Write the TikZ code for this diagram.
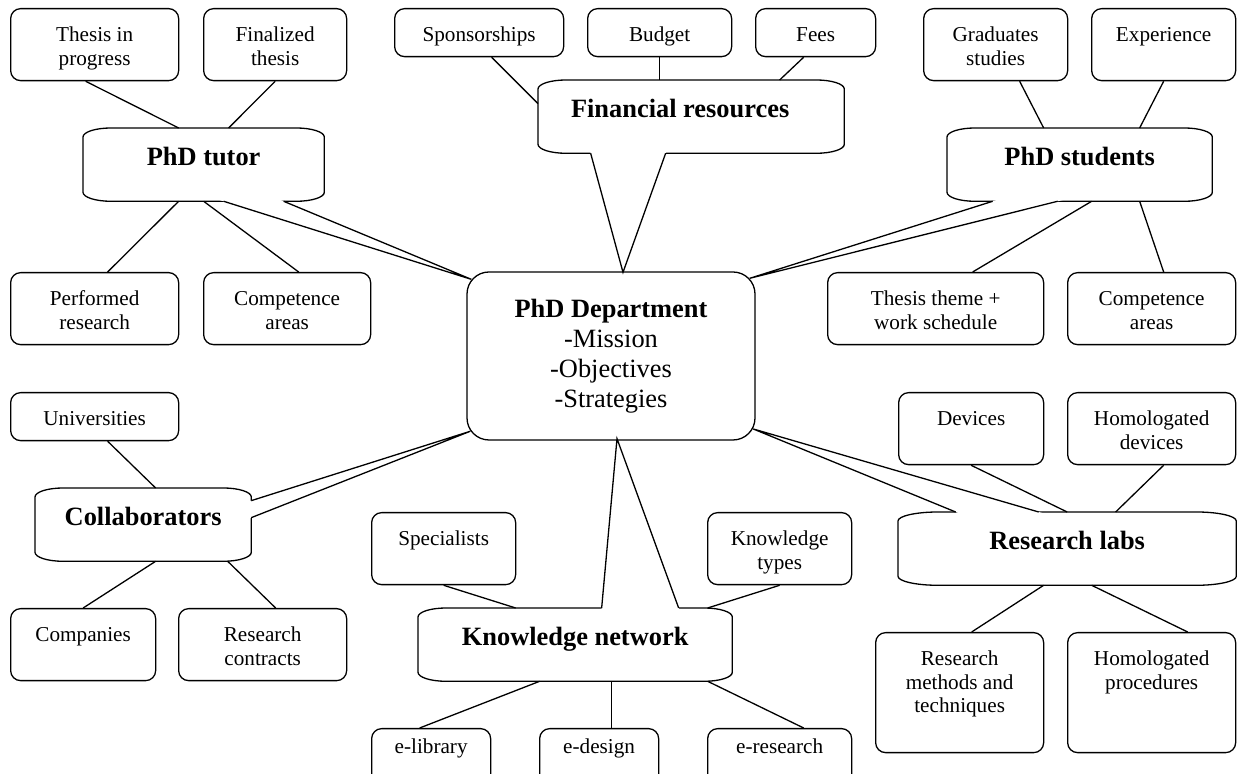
\documentclass[tikz,border=0pt]{standalone}
\usepackage{fontspec}
\setmainfont{Liberation Serif}
\usetikzlibrary{calc}

\def\topgap{16.5pt}
\tikzset{
	top gap/.code={\def\topgap{#1}},
	box/.style 2 args={draw, rounded corners=5pt, anchor=north west, inner sep=0pt,
		minimum width=#1pt, minimum height=#2pt, font=\fontsize{10.6}{11.8}\selectfont,
		execute at begin node={\begin{minipage}[t][#2pt][t]{#1pt}\centering\rule{0pt}{\topgap}},
		execute at end node={\end{minipage}}},
	callout/.style 2 args={box={#1}{#2}, draw=none, top gap=18.6pt,
		font=\bfseries\fontsize{13.2}{15}\selectfont},
	dept/.style={draw, rounded corners=11pt, minimum width=144pt, minimum height=84pt,
		align=center, inner sep=0pt, font=\fontsize{13.2}{15}\selectfont},
}

% outline of a callout, corners flattened
\newcommand{\flagline}[2]{
	\draw ([yshift=-4.5pt]#1.north west) arc[start angle=180, end angle=90, x radius=#2, y radius=4.5pt]
		-- ([xshift=-#2]#1.north east) arc[start angle=90, end angle=0, x radius=#2, y radius=4.5pt]
		-- ([yshift=4.5pt]#1.south east) arc[start angle=0, end angle=-90, x radius=#2, y radius=4.5pt]
		-- ([xshift=#2]#1.south west) arc[start angle=270, end angle=180, x radius=#2, y radius=4.5pt]
		-- cycle;}
% pointer of a callout: base, tip, base
\newcommand{\calloutwedge}[3]{
	\fill[white] ($(#1)!-3pt!(#2)$) -- (#2) -- ($(#3)!-3pt!(#2)$) -- cycle;
	\draw (#1) -- (#2) -- (#3);}

\begin{document}
\begin{tikzpicture}[x=0.5pt, y=0.5pt, line width=0.65pt]
	\useasboundingbox (0,0) rectangle (1237,774);

	\node[dept] (dept) at (611,418) {\textbf{PhD Department}\\-Mission\\-Objectives\\-Strategies};

	% PhD tutor
	\node[callout={120}{36}] (tutor) at (83,646) {PhD tutor};
	\node[box={84}{36}] (thprog) at (10,766) {Thesis in\\progress};
	\node[box={71.5}{36}] (thfin) at (203,766) {Finalized\\thesis};
	\node[box={84}{36}] (perf) at (10,502) {Performed\\research};
	\node[box={83.5}{36}] (compt) at (203,502) {Competence\\areas};

	% Financial resources
	\node[callout={152.5}{36}] (fin) at (538,694) {Financial resources\rule{11pt}{0pt}};
	\node[box={84.5}{24}] (sponsor) at (394,766) {Sponsorships};
	\node[box={72}{24}] (budget) at (587,766) {Budget};
	\node[box={60}{24}] (fees) at (755,766) {Fees};

	% PhD students
	\node[callout={132}{36}] (stud) at (947,646) {PhD students};
	\node[box={72}{36}] (grad) at (923,766) {Graduates\\studies};
	\node[box={72}{36}] (exper) at (1091,766) {Experience};
	\node[box={108}{36}] (theme) at (827,502) {Thesis theme +\\work schedule};
	\node[box={84}{36}] (comps) at (1067,502) {Competence\\areas};

	% Collaborators
	\node[callout={107.5}{36}] (collab) at (35,286) {Collaborators};
	\node[box={84}{24}] (univ) at (10,382) {Universities};
	\node[box={72.5}{36}] (compan) at (10,166) {Companies};
	\node[box={84}{36}] (contr) at (178,166) {Research\\contracts};

	% Knowledge network
	\node[callout={156.5}{36}] (know) at (418,166) {Knowledge network};
	\node[box={72}{36}] (spec) at (371,262) {Specialists};
	\node[box={72}{36}] (ktypes) at (707,262) {Knowledge\\types};
	\node[box={59.5}{36}, top gap=12.2pt] (elib) at (371,46) {e-library};
	\node[box={59.5}{36}, top gap=12.2pt] (edes) at (539,46) {e-design};
	\node[box={72}{36}, top gap=12.2pt] (eres) at (707,46) {e-research};

	% Research labs
	\node[callout={168.5}{36}] (labs) at (898,262) {Research labs};
	\node[box={72.5}{36}] (devices) at (898,382) {Devices};
	\node[box={84}{36}] (homdev) at (1067,382) {Homologated\\devices};
	\node[box={84}{60}] (methods) at (875,142) {Research\\methods and\\techniques};
	\node[box={84}{60}] (homproc) at (1067,142) {Homologated\\procedures};

	\flagline{tutor}{14pt}
	\flagline{fin}{14pt}
	\flagline{stud}{14pt}
	\flagline{collab}{14pt}
	\flagline{know}{14pt}
	\flagline{labs}{20pt}

	\coordinate (tutA) at ([xshift=10pt]tutor.south);
	\coordinate (tutB) at ([xshift=40pt]tutor.south);
	\coordinate (tutT) at ([xshift=2.5pt,yshift=-4pt]dept.north west);
	\coordinate (finA) at ([xshift=-50.25pt]fin.south);
	\coordinate (finB) at ([xshift=-12.75pt]fin.south);
	\coordinate (finT) at ([xshift=6pt,yshift=-0.5pt]dept.north);
	\coordinate (studA) at ([xshift=-43.5pt]stud.south);
	\coordinate (studB) at ([xshift=-11pt]stud.south);
	\coordinate (studT) at ([xshift=-3pt,yshift=-3.5pt]dept.north east);
	\coordinate (collabA) at ([yshift=12pt]collab.east);
	\coordinate (collabB) at ([yshift=3.5pt]collab.east);
	\coordinate (collabT) at ([xshift=2pt,yshift=4.7pt]dept.south west);
	\coordinate (knowA) at ([xshift=13.25pt]know.north);
	\coordinate (knowB) at ([xshift=51.75pt]know.north);
	\coordinate (knowT) at ([xshift=3pt,yshift=1pt]dept.south);
	\coordinate (labsA) at ([xshift=-55.75pt]labs.north);
	\coordinate (labsB) at ([xshift=-14.25pt]labs.north);
	\coordinate (labsT) at ([xshift=-1.25pt,yshift=5.85pt]dept.south east);

	\calloutwedge{tutA}{tutT}{tutB}
	\calloutwedge{finA}{finT}{finB}
	\calloutwedge{studA}{studT}{studB}
	\calloutwedge{collabA}{collabT}{collabB}
	\calloutwedge{knowA}{knowT}{knowB}
	\calloutwedge{labsA}{labsT}{labsB}

	\draw ([xshift=-4.5pt]thprog.south) -- ([xshift=-12.5pt]tutor.north);
	\draw (thfin.south) -- ([xshift=12.5pt]tutor.north);
	\draw ([xshift=-12.5pt]tutor.south) -- ([xshift=6.5pt]perf.north);
	\draw (tutor.south) -- ([xshift=5.75pt]compt.north);

	\draw ([xshift=6.25pt]sponsor.south) -- ([yshift=6.5pt]fin.west);
	\draw (budget.south) -- (budget.south |- fin.north);
	\draw ([xshift=-6pt]fees.south) -- ([xshift=44.25pt]fin.north);

	\draw ([xshift=12pt]grad.south) -- ([xshift=-18pt]stud.north);
	\draw (exper.south) -- ([xshift=30pt]stud.north);
	\draw ([xshift=6pt]stud.south) -- ([xshift=18.5pt]theme.north);
	\draw ([xshift=30pt]stud.south) -- ([xshift=6pt]comps.north);

	\draw ([xshift=6.5pt]univ.south) -- ([xshift=6.25pt]collab.north);
	\draw ([xshift=6.25pt]collab.south) -- (compan.north);
	\draw ([xshift=42.25pt]collab.south) -- ([xshift=6.5pt]contr.north);

	\draw (spec.south) -- ([xshift=-29.75pt]know.north);
	\draw (ktypes.south) -- ([xshift=66.25pt]know.north);
	\draw ([xshift=-17.75pt]know.south) -- ([xshift=-5.75pt]elib.north);
	\draw ([xshift=18.25pt]know.south) -- ([xshift=6.25pt]edes.north);
	\draw ([xshift=66.25pt]know.south) -- ([xshift=12pt]eres.north);

	\draw (devices.south) -- (labs.north);
	\draw ([xshift=6pt]homdev.south) -- ([xshift=24.25pt]labs.north);
	\draw ([xshift=-11.75pt]labs.south) -- ([xshift=6pt]methods.north);
	\draw ([xshift=12.25pt]labs.south) -- ([xshift=18pt]homproc.north);
\end{tikzpicture}
\end{document}
